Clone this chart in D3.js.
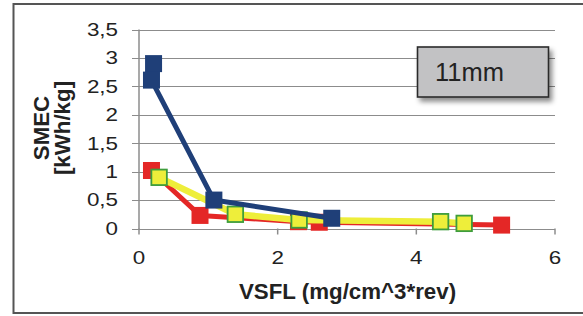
<!DOCTYPE html>
<html>
<head>
<meta charset="utf-8">
<script src="https://cdn.jsdelivr.net/npm/d3@7"></script>
<style>
  body { margin: 0; background: #fff; }
  svg { display: block; font-family: "Liberation Sans", Arial, sans-serif; }
</style>
</head>
<body>
<svg id="chart" width="583" height="316"></svg>
<script>
// values
const blueX = [0.21, 0.18, 1.08, 2.78];
const blueY = [2.90, 2.61, 0.50, 0.18];
const redX = [0.18, 0.88, 2.30, 2.60, 5.23];
const redY = [1.02, 0.23, 0.12, 0.11, 0.06];
const yellowX = [0.29, 1.39, 2.31, 4.35, 4.69];
const yellowY = [0.90, 0.25, 0.15, 0.12, 0.09];
const xTicks = [0, 2, 4, 6];
const yTicks = [0, 0.5, 1, 1.5, 2, 2.5, 3, 3.5];
const boxLabel = '11mm';

const svg = d3.select('#chart');

const x = d3.scaleLinear().domain([0, 6]).range([139, 555]);
const y = d3.scaleLinear().domain([0, 3.5]).range([228.5, 29.5]);
const fmt = d => String(d).replace('.', ',');

// outer frame (open on the right)
svg.append('path')
    .attr('d', 'M583,4 L13.5,4 L13.5,313 L583,313')
    .attr('fill', 'none')
    .attr('stroke', '#555')
    .attr('stroke-width', 2);

// grid lines
svg.append('g')
    .selectAll('line')
    .data(yTicks)
    .join('line')
    .attr('x1', 132)
    .attr('x2', x(6))
    .attr('y1', d => Math.round(y(d)) + 0.5)
    .attr('y2', d => Math.round(y(d)) + 0.5)
    .attr('stroke', '#8c8c8c')
    .attr('stroke-width', 1.2);

// y axis line
svg.append('line')
    .attr('x1', x(0)).attr('x2', x(0))
    .attr('y1', y(3.5)).attr('y2', y(0) + 0.5)
    .attr('stroke', '#8c8c8c')
    .attr('stroke-width', 1.5);

// x tick marks
svg.append('g')
    .selectAll('line')
    .data(xTicks)
    .join('line')
    .attr('x1', d => x(d)).attr('x2', d => x(d))
    .attr('y1', y(0)).attr('y2', y(0) + 6)
    .attr('stroke', '#8c8c8c')
    .attr('stroke-width', 1.5);

// y tick labels (slightly wide glyphs in the original)
svg.append('g')
    .selectAll('text')
    .data(yTicks)
    .join('text')
    .attr('transform', d => `translate(118,${y(d) + 6.3}) scale(1.28,1)`)
    .attr('text-anchor', 'end')
    .attr('font-size', 17.5)
    .attr('fill', '#222')
    .text(fmt);

// x tick labels
svg.append('g')
    .selectAll('text')
    .data(xTicks)
    .join('text')
    .attr('transform', d => `translate(${x(d)},263.5) scale(1.28,1)`)
    .attr('text-anchor', 'middle')
    .attr('font-size', 17.5)
    .attr('fill', '#222')
    .text(d => d);

// axis titles
svg.append('text')
    .attr('x', 239)
    .attr('y', 299)
    .attr('font-size', 22.3)
    .attr('font-weight', 'bold')
    .attr('fill', '#222')
    .text('VSFL (mg/cm^3*rev)');

const yTitle = svg.append('text')
    .attr('transform', 'translate(70,128) rotate(-90)')
    .attr('text-anchor', 'middle')
    .attr('font-size', 22.3)
    .attr('font-weight', 'bold')
    .attr('fill', '#222');
yTitle.append('tspan').attr('x', 0).attr('dy', -21).text('SMEC');
yTitle.append('tspan').attr('x', 0).attr('dy', 21).text('[kWh/kg]');

// series
const line = d3.line().x(d => x(d[0])).y(d => y(d[1]));

function drawSeries(xs, ys, color, width, fill, stroke, size) {
    const pts = d3.zip(xs, ys);
    svg.append('path')
        .datum(pts)
        .attr('d', line)
        .attr('fill', 'none')
        .attr('stroke', color)
        .attr('stroke-width', width)
        .attr('stroke-linejoin', 'round');
    svg.append('g')
        .selectAll('rect')
        .data(pts)
        .join('rect')
        .attr('x', d => x(d[0]) - size / 2)
        .attr('y', d => y(d[1]) - size / 2)
        .attr('width', size)
        .attr('height', size)
        .attr('fill', fill)
        .attr('stroke', stroke)
        .attr('stroke-width', stroke === 'none' ? 0 : 1.8);
}

drawSeries(redX, redY, '#e42726', 5, '#e42726', 'none', 17);
drawSeries(yellowX, yellowY, '#eeee3a', 6.5, '#eeee3a', '#3e9d3c', 15.5);
drawSeries(blueX, blueY, '#1f3f78', 5, '#1f3f78', 'none', 17);

// label box with drop shadow
const defs = svg.append('defs');
const f = defs.append('filter').attr('id', 'shadow')
    .attr('x', '-10%').attr('y', '-20%').attr('width', '130%').attr('height', '160%');
f.append('feDropShadow')
    .attr('dx', 3).attr('dy', 4)
    .attr('stdDeviation', 2.5)
    .attr('flood-color', '#000')
    .attr('flood-opacity', 0.45);

svg.append('rect')
    .attr('x', 417.5).attr('y', 47)
    .attr('width', 131).attr('height', 50)
    .attr('fill', '#c2c2c4')
    .attr('stroke', '#2b2b2b')
    .attr('stroke-width', 1.6)
    .attr('filter', 'url(#shadow)');

svg.append('text')
    .attr('x', 435)
    .attr('y', 80.5)
    .attr('font-size', 25.5)
    .attr('fill', '#222')
    .text(boxLabel);
</script>
</body>
</html>
